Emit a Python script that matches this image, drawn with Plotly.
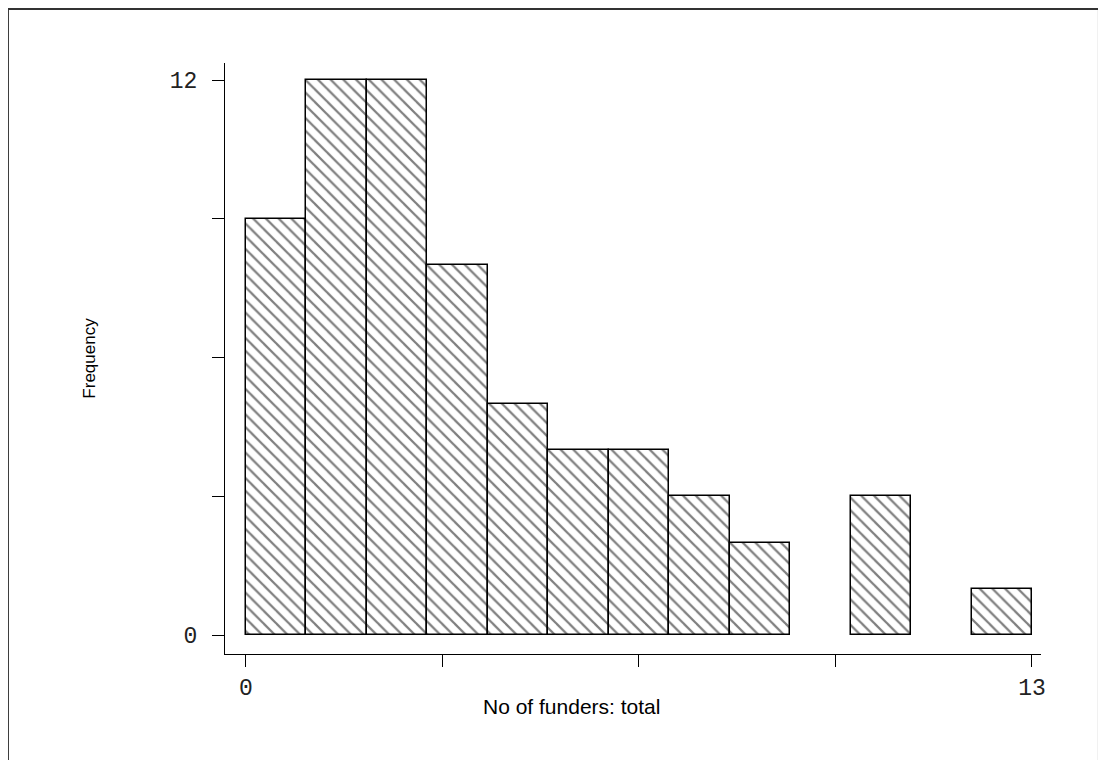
import plotly.graph_objects as go

# Histogram data: bins of width 1 from 0 to 13
bin_left = list(range(13))
counts = [9, 12, 12, 8, 5, 4, 4, 3, 2, 0, 3, 0, 1]
x_tickvals = [0, 3.25, 6.5, 9.75, 13]
x_ticktext = ["0", "", "", "", "13"]
y_tickvals = [0, 3, 6, 9, 12]
y_ticktext = ["0", "", "", "", "12"]

x_centers = [b + 0.5 for b in bin_left]
y_plot = [c if c > 0 else None for c in counts]  # empty bins draw nothing

fig = go.Figure()
fig.add_trace(go.Bar(
    x=x_centers, y=y_plot, width=1,
    marker=dict(color="white",
                line=dict(color="black", width=1.5),
                pattern=dict(shape="\\", fgcolor="black", bgcolor="white",
                             size=9, solidity=0.25)),
    showlegend=False,
))

tickfont = dict(family="Liberation Mono", size=23, color="#222")
titlefont = dict(family="Liberation Sans, Arial", color="black")
fig.update_layout(
    width=1106, height=760,
    paper_bgcolor="white", plot_bgcolor="white",
    margin=dict(l=217, r=73, t=55, b=114),
    bargap=0,
    xaxis=dict(range=[-0.347, 13.149], tickvals=x_tickvals, ticktext=x_ticktext,
               showgrid=False, zeroline=False, showline=True, linecolor="black",
               linewidth=1, ticks="outside", ticklen=12, tickcolor="black",
               tickfont=tickfont),
    yaxis=dict(range=[-0.41, 12.37], tickvals=y_tickvals, ticktext=y_ticktext,
               showgrid=False, zeroline=False, showline=True, linecolor="black",
               linewidth=1, ticks="outside", ticklen=12, tickcolor="black",
               tickfont=tickfont, ticklabelstandoff=10,
               title=dict(text="Frequency", font=dict(size=17, **titlefont),
                          standoff=69)),
    annotations=[dict(text="No of funders: total", xref="paper", yref="paper",
                      x=0.425, y=-0.088, xanchor="center", yanchor="middle",
                      showarrow=False, font=dict(size=21, **titlefont))],
    shapes=[dict(type="rect", xref="paper", yref="paper",
                 x0=-0.266, x1=1.071, y0=-0.19, y1=1.0914,
                 line=dict(color="#333", width=2), fillcolor="rgba(0,0,0,0)")],
)

fig.write_html("out.html")
